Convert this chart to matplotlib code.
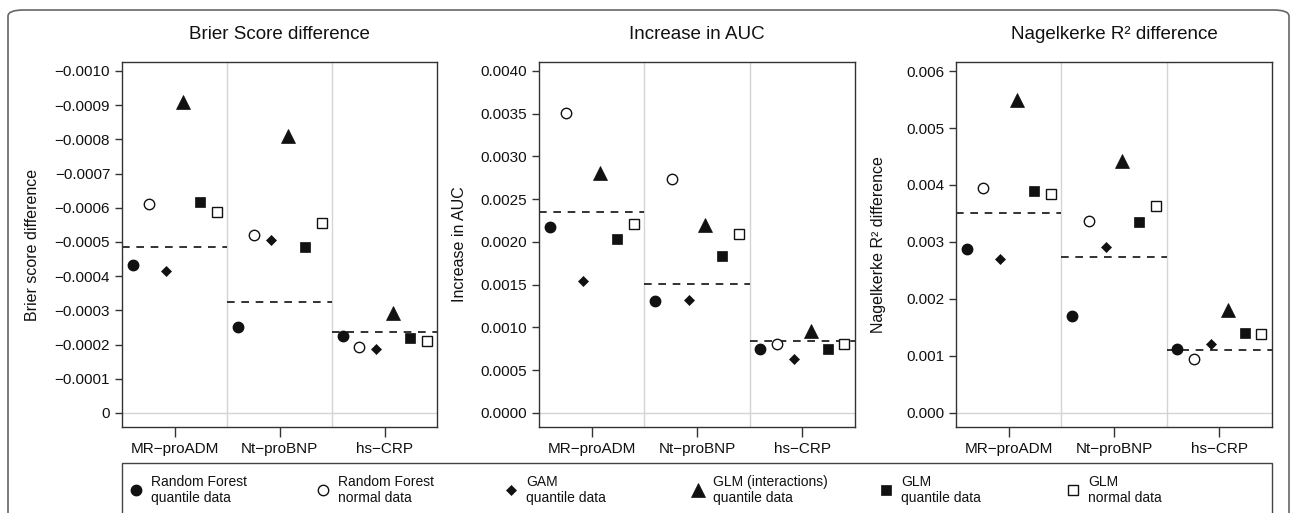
import numpy as np
import matplotlib
matplotlib.use("Agg")
import matplotlib.pyplot as plt
from matplotlib.patches import FancyBboxPatch, Rectangle
from matplotlib.lines import Line2D

plt.rcParams['font.family'] = ['Liberation Sans', 'DejaVu Sans']

# ---------------- data ----------------
categories = ["MR\u2212proADM", "Nt\u2212proBNP", "hs\u2212CRP"]
series_names = ["Random Forest\nquantile data", "Random Forest\nnormal data", "GAM\nquantile data",
                "GLM (interactions)\nquantile data", "GLM\nquantile data", "GLM\nnormal data"]

# Brier score difference (per category: RF-q, RF-n, GAM-q, GLMint-q, GLM-q, GLM-n)
brier_mr = [-0.000433, -0.000610, -0.000416, -0.000910, -0.000616, -0.000587]
brier_nt = [-0.000252, -0.000521, -0.000506, -0.000811, -0.000486, -0.000556]
brier_hs = [-0.000225, -0.000194, -0.000188, -0.000292, -0.000218, -0.000210]
brier_mean = [-0.000484, -0.000325, -0.000236]

auc_mr = [0.002179, 0.003512, 0.001547, 0.002803, 0.002035, 0.002207]
auc_nt = [0.001310, 0.002737, 0.001325, 0.002195, 0.001836, 0.002094]
auc_hs = [0.000752, 0.000811, 0.000632, 0.000963, 0.000749, 0.000803]
auc_mean = [0.002347, 0.001513, 0.000842]

r2_mr = [0.002871, 0.003942, 0.002702, 0.005491, 0.003900, 0.003836]
r2_nt = [0.001696, 0.003374, 0.002906, 0.004421, 0.003345, 0.003637]
r2_hs = [0.001117, 0.000947, 0.001210, 0.001807, 0.001398, 0.001386]
r2_mean = [0.003503, 0.002731, 0.001105]

brier_ticks = [-0.0010, -0.0009, -0.0008, -0.0007, -0.0006, -0.0005, -0.0004, -0.0003, -0.0002, -0.0001, 0]
brier_ticklabels = ["\u22120.0010", "\u22120.0009", "\u22120.0008", "\u22120.0007", "\u22120.0006",
                    "\u22120.0005", "\u22120.0004", "\u22120.0003", "\u22120.0002", "\u22120.0001", "0"]
auc_ticks = [0.0040, 0.0035, 0.0030, 0.0025, 0.0020, 0.0015, 0.0010, 0.0005, 0.0]
auc_ticklabels = ["0.0040", "0.0035", "0.0030", "0.0025", "0.0020", "0.0015", "0.0010", "0.0005", "0.0000"]
r2_ticks = [0.006, 0.005, 0.004, 0.003, 0.002, 0.001, 0.0]
r2_ticklabels = ["0.006", "0.005", "0.004", "0.003", "0.002", "0.001", "0.000"]

# ---------------- styles ----------------
marker_styles = [
    dict(marker='o', ms=7.5, mfc='#111111', mec='#111111', mew=1.0),
    dict(marker='o', ms=7.5, mfc='white', mec='#111111', mew=1.0),
    dict(marker='D', ms=5.2, mfc='#111111', mec='#111111', mew=0.5),
    dict(marker='^', ms=9.5, mfc='#111111', mec='#111111', mew=0.5),
    dict(marker='s', ms=7.8, mfc='#111111', mec='#111111', mew=0.5),
    dict(marker='s', ms=7.8, mfc='white', mec='#111111', mew=1.0),
]
offsets = np.array([-2.5, -1.5, -0.5, 0.5, 1.5, 2.5]) * 0.16

W, H = 1291, 513
fig = plt.figure(figsize=(W / 100, H / 100), dpi=100)


def px_rect(x0, y0, x1, y1):
    return [x0 / W, 1 - y1 / H, (x1 - x0) / W, (y1 - y0) / H]


panels = [
    dict(rect=(122, 62, 437, 427), title="Brier Score difference", ylabel="Brier score difference",
         data=[brier_mr, brier_nt, brier_hs], mean=brier_mean, ticks=brier_ticks,
         ticklabels=brier_ticklabels, ylim=(0.000041, -0.001026), ylabel_x=33),
    dict(rect=(539, 62, 855, 427), title="Increase in AUC", ylabel="Increase in AUC",
         data=[auc_mr, auc_nt, auc_hs], mean=auc_mean, ticks=auc_ticks,
         ticklabels=auc_ticklabels, ylim=(-0.000164, 0.004105), ylabel_x=459),
    dict(rect=(956, 62, 1272, 427), title="Nagelkerke R\u00b2 difference", ylabel="Nagelkerke R\u00b2 difference",
         data=[r2_mr, r2_nt, r2_hs], mean=r2_mean, ticks=r2_ticks,
         ticklabels=r2_ticklabels, ylim=(-0.000246, 0.006158), ylabel_x=879),
]

for p in panels:
    x0, y0, x1, y1 = p['rect']
    ax = fig.add_axes(px_rect(x0, y0, x1, y1))
    ax.set_xlim(-0.5, 2.5)
    ax.set_ylim(*p['ylim'])
    # grid
    for b in [0.5, 1.5]:
        ax.axvline(b, color='#d4d4d4', lw=1.0, zorder=0)
    ax.axhline(0, color='#d4d4d4', lw=1.0, zorder=0)
    # means
    for ci, m in enumerate(p['mean']):
        ax.plot([ci - 0.5, ci + 0.5], [m, m], color='#111111', lw=1.2,
                linestyle=(0, (4.6, 4.0)), zorder=2)
    # points
    for ci, vals in enumerate(p['data']):
        for si, v in enumerate(vals):
            ax.plot([ci + offsets[si]], [v], linestyle='none', zorder=3, **marker_styles[si])
    ax.set_xticks(range(len(categories)))
    ax.set_xticklabels(categories, fontsize=11, color='#111111')
    ax.set_yticks(p['ticks'])
    ax.set_yticklabels(p['ticklabels'], fontsize=11, color='#111111')
    ax.tick_params(axis='y', length=5, width=1, color='#333333', pad=3.5)
    ax.tick_params(axis='x', length=7, width=1, color='#333333', pad=4)
    for s in ax.spines.values():
        s.set_color('#333333')
        s.set_linewidth(1.0)
    fig.text((x0 + x1) / 2 / W, 1 - 35 / H, p['title'], fontsize=13.5, color='#111111',
             ha='center', va='center')
    fig.text(p['ylabel_x'] / W, 1 - ((y0 + y1) / 2) / H, p['ylabel'], rotation=90,
             ha='center', va='center', fontsize=11.5, color='#111111')

# outer rounded border
border = FancyBboxPatch((8 / W, 1 - 540 / H), (1289 - 8) / W, (540 - 10) / H,
                        boxstyle="round,pad=0,rounding_size=0.012", transform=fig.transFigure,
                        fill=False, edgecolor='#666666', lw=1.2, clip_on=False)
fig.add_artist(border)

# legend
leg = Rectangle((122 / W, 1 - 530 / H), (1272 - 122) / W, (530 - 463) / H,
                transform=fig.transFigure, fill=False, edgecolor='#444444', lw=1.0)
fig.add_artist(leg)
marker_x = [136, 323, 511, 698, 886, 1073]
for si, name in enumerate(series_names):
    mx = marker_x[si] / W
    fig.add_artist(Line2D([mx], [1 - 490 / H], transform=fig.transFigure, linestyle='none',
                          **marker_styles[si]))
    fig.text((marker_x[si] + 15) / W, 1 - 490 / H, name, fontsize=10, color='#111111',
             ha='left', va='center', linespacing=1.1)

fig.savefig("out.png", dpi=100)
